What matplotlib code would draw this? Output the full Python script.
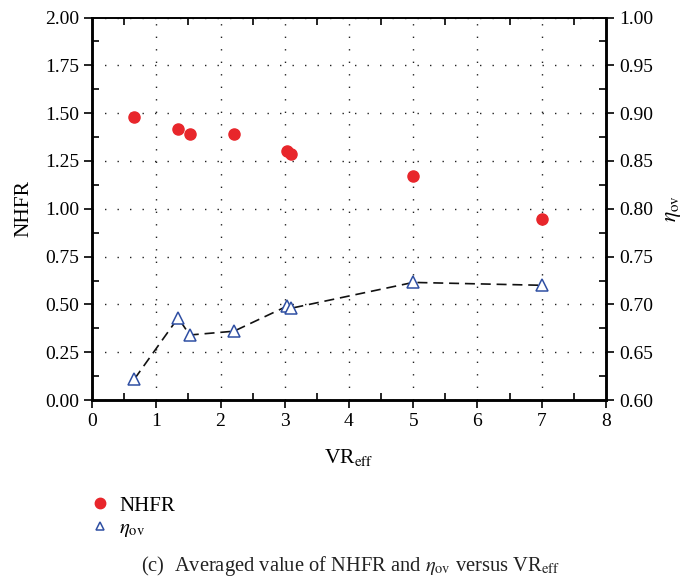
import numpy as np
import matplotlib.pyplot as plt
from matplotlib.ticker import MultipleLocator
from matplotlib.lines import Line2D

plt.rcParams['font.family'] = ['Liberation Serif', 'DejaVu Serif']
plt.rcParams['mathtext.fontset'] = 'stix'

# Data
vr_eff = [0.66, 1.34, 1.52, 2.21, 3.03, 3.10, 5.00, 7.00]
nhfr = [1.48, 1.415, 1.39, 1.39, 1.30, 1.285, 1.173, 0.944]
eta_ov = [0.622, 0.686, 0.668, 0.672, 0.698, 0.696, 0.723, 0.720]

red = '#e8262b'
blue = '#2f4fa3'

fig = plt.figure(figsize=(6.87, 5.84), dpi=100)
ax = fig.add_axes([0.134, 0.315, 0.748, 0.655])
ax2 = ax.twinx()

ax.plot(vr_eff, nhfr, 'o', color=red, markersize=8, zorder=3)
ax2.plot(vr_eff, eta_ov, color='#111111', linewidth=1.2, dashes=(6, 3.5), zorder=2)
ax2.plot(vr_eff, eta_ov, '^', markerfacecolor='white', markeredgecolor=blue,
         markeredgewidth=1.1, markersize=8, linestyle='none', zorder=3)

ax.set_xlim(0, 8)
ax.set_ylim(0, 2.0)
ax2.set_ylim(0.6, 1.0)

ax.xaxis.set_major_locator(MultipleLocator(1))
ax.xaxis.set_minor_locator(MultipleLocator(0.5))
ax.yaxis.set_major_locator(MultipleLocator(0.25))
ax.yaxis.set_minor_locator(MultipleLocator(0.125))
ax2.yaxis.set_major_locator(MultipleLocator(0.05))
ax2.yaxis.set_minor_locator(MultipleLocator(0.025))
ax.yaxis.set_major_formatter(plt.FormatStrFormatter('%.2f'))
ax2.yaxis.set_major_formatter(plt.FormatStrFormatter('%.2f'))

ax.grid(True, which='major', linestyle=(0, (1, 8)), color='#222222', linewidth=1.0)

ax.tick_params(which='major', direction='out', length=6, width=1.2, labelsize=14)
ax.tick_params(which='minor', direction='in', length=5, width=1.2)
ax.tick_params(axis='x', which='minor', top=True)
ax2.tick_params(which='major', direction='out', length=6, width=1.2, labelsize=14)
ax2.tick_params(which='minor', direction='in', length=5, width=1.2)

for a in (ax, ax2):
    a.spines['top'].set_linewidth(1.2)
    a.spines['left'].set_linewidth(1.8)
    a.spines['right'].set_linewidth(1.8)
    a.spines['bottom'].set_linewidth(1.8)

ax.set_xlabel(r'VR$_{\rm eff}$', fontsize=15.5, labelpad=12)
ax.set_ylabel('NHFR', fontsize=15.5, labelpad=8)
ax2.set_ylabel(r'$\eta_{\rm ov}$', fontsize=15.5, labelpad=8)

h1 = Line2D([], [], marker='o', color=red, linestyle='none', markersize=7.5)
h2 = Line2D([], [], marker='^', markerfacecolor='white', markeredgecolor=blue,
            markeredgewidth=1.1, linestyle='none', markersize=6)
fig.legend(handles=[h1, h2], labels=['NHFR', r'$\eta_{\rm ov}$'], loc='upper left',
           bbox_to_anchor=(0.125, 0.165), frameon=False, fontsize=15,
           handlelength=0.6, handletextpad=0.6, labelspacing=0.15, borderaxespad=0)

fig.text(0.51, 0.031, r'(c)  Averaged value of NHFR and $\eta_{\rm ov}$ versus VR$_{\rm eff}$',
         ha='center', va='center', fontsize=14.8, color='#222222')

fig.savefig('out.png', dpi=100)
